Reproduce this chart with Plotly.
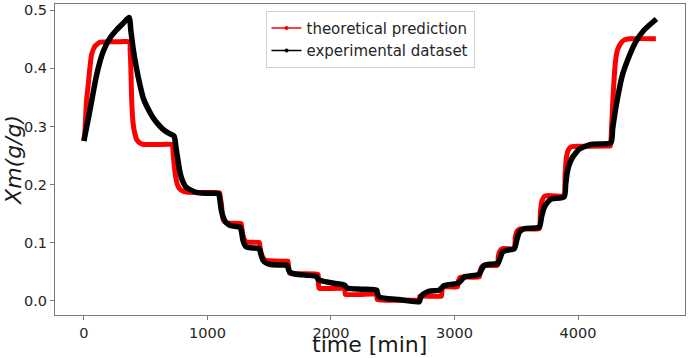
import plotly.graph_objects as go

# theoretical prediction (red)
t_theo = [0, 8, 21, 35, 48, 62, 89, 129, 200, 300, 372, 374, 378, 382, 386, 392, 399, 412, 426, 450, 480, 600, 718,
          720, 726, 735, 749, 762, 776, 800, 830, 950, 1098, 1104, 1113, 1120, 1126, 1140, 1167, 1273,
          1278, 1288, 1300, 1315, 1421, 1426, 1437, 1450, 1463, 1500, 1650, 1652, 1657, 1665, 1680, 1895,
          1898, 1903, 1910, 2112, 2116, 2370, 2374, 2716, 2720, 2894, 2899, 2908, 3024, 3032, 3045, 3065,
          3200, 3208, 3222, 3245, 3347, 3355, 3368, 3390, 3484, 3492, 3505, 3530, 3686, 3695, 3708, 3730,
          3760, 3888, 3895, 3905, 3920, 3945, 3990, 4252, 4262, 4272, 4282, 4293, 4305, 4320, 4345, 4375,
          4420, 4630]
x_theo = [0.275, 0.29, 0.344, 0.372, 0.40, 0.4236, 0.438, 0.445, 0.446, 0.446, 0.446, 0.432, 0.415, 0.385, 0.35,
          0.322, 0.304, 0.288, 0.278, 0.272, 0.269, 0.269, 0.269,
          0.262, 0.245, 0.225, 0.2067, 0.197, 0.1925, 0.189, 0.187, 0.186, 0.186, 0.178, 0.1668, 0.150, 0.141,
          0.136, 0.1336, 0.133,
          0.125, 0.1125, 0.105, 0.101, 0.100, 0.092, 0.081, 0.074, 0.0709, 0.069, 0.068, 0.068, 0.058, 0.048,
          0.0465, 0.0457,
          0.030, 0.022, 0.021, 0.021, 0.011, 0.011, 0.0025, 0.0025, 0.008, 0.008, 0.020, 0.024, 0.024, 0.034,
          0.040, 0.041,
          0.041, 0.052, 0.059, 0.061, 0.061, 0.077, 0.086, 0.0897, 0.0897, 0.108, 0.119, 0.124, 0.124, 0.152,
          0.172, 0.180,
          0.181, 0.181, 0.215, 0.245, 0.259, 0.265, 0.266, 0.2666, 0.2666, 0.30, 0.345, 0.385, 0.415, 0.432,
          0.443, 0.449,
          0.451, 0.451]

# experimental dataset (black)
t_exp = [0, 48, 103, 156, 210, 264, 318, 366, 380, 400, 425, 450, 480, 520, 560, 600, 641, 690, 728, 735, 748,
         762, 775, 789, 810, 830, 870, 911, 1000, 1090, 1100, 1113, 1126, 1140, 1160, 1180, 1220, 1265, 1275,
         1288, 1300, 1315, 1360, 1420, 1430, 1450, 1475, 1504, 1570, 1645, 1655, 1665, 1690, 1719, 1800, 1881,
         1895, 1908, 2000, 2110, 2123, 2135, 2250, 2370, 2377, 2390, 2450, 2550, 2716, 2725, 2740, 2757, 2797,
         2878, 2895, 2915, 2932, 3026, 3050, 3066, 3080, 3175, 3201, 3220, 3242, 3300, 3350, 3370, 3390, 3430,
         3484, 3505, 3525, 3565, 3686, 3705, 3727, 3755, 3781, 3888, 3900, 3915, 3935, 3955, 3980, 4010, 4060,
         4117, 4266, 4280, 4293, 4320, 4360, 4414, 4468, 4535, 4635]
x_exp = [0.275, 0.327, 0.389, 0.429, 0.452, 0.466, 0.4777, 0.4875, 0.465, 0.432, 0.401, 0.375, 0.349, 0.330,
         0.315, 0.304, 0.295, 0.288, 0.284, 0.280, 0.26,
         0.241, 0.224, 0.212, 0.201, 0.195, 0.19, 0.1866, 0.185, 0.184, 0.175, 0.155, 0.145, 0.138, 0.133, 0.130,
         0.128, 0.1267, 0.12,
         0.104, 0.097, 0.0925, 0.091, 0.0897, 0.082, 0.0697, 0.065, 0.0628, 0.0615, 0.061, 0.055, 0.0497, 0.047,
         0.0457, 0.044, 0.042,
         0.037, 0.0354, 0.031, 0.027, 0.0235, 0.0215, 0.020, 0.0183, 0.012, 0.0068, 0.004, 0.002, -0.0015, 0.005,
         0.010, 0.0127, 0.0166,
         0.0183, 0.022, 0.026, 0.027, 0.030, 0.034, 0.038, 0.041, 0.044, 0.046, 0.054, 0.061, 0.063, 0.064, 0.074,
         0.084, 0.087,
         0.0897, 0.105, 0.118, 0.124, 0.1267, 0.145, 0.161, 0.170, 0.175, 0.179, 0.200, 0.224, 0.238, 0.2466,
         0.254, 0.261, 0.266,
         0.2695, 0.272, 0.295, 0.315, 0.349, 0.389, 0.421, 0.446, 0.466, 0.485]

x_ticks = [0, 1000, 2000, 3000, 4000]
y_ticks = [0.0, 0.1, 0.2, 0.3, 0.4, 0.5]

FONT = "DejaVu Sans"
RED = "#ff0000"
BLACK = "#000000"

fig = go.Figure()
fig.add_trace(go.Scatter(x=t_theo, y=x_theo, mode="lines",
                         line=dict(color=RED, width=5, shape="spline", smoothing=0.4),
                         showlegend=False, hoverinfo="skip"))
fig.add_trace(go.Scatter(x=t_exp, y=x_exp, mode="lines",
                         line=dict(color=BLACK, width=5.5, shape="spline", smoothing=0.6),
                         showlegend=False, hoverinfo="skip"))
# legend entries (thin line with dot marker, like the original)
fig.add_trace(go.Scatter(x=[None], y=[None], mode="lines+markers", name="theoretical prediction",
                         line=dict(color=RED, width=1.5), marker=dict(color=RED, size=4)))
fig.add_trace(go.Scatter(x=[None], y=[None], mode="lines+markers", name="experimental dataset",
                         line=dict(color=BLACK, width=1.5), marker=dict(color=BLACK, size=4)))

axis_common = dict(showgrid=False, zeroline=False, showline=True, mirror=True, linecolor="#7a7a7a",
                   linewidth=1.2, ticks="outside", ticklen=4, tickwidth=1, tickcolor="#7a7a7a",
                   tickfont=dict(family=FONT, size=14.5, color="#262626"))

fig.update_layout(
    width=688, height=358,
    margin=dict(l=55, r=2, t=2, b=43),
    paper_bgcolor="white", plot_bgcolor="white",
    font=dict(family=FONT),
    xaxis=dict(range=[-234, 4866], tickvals=x_ticks, ticktext=[str(v) for v in x_ticks], **axis_common),
    yaxis=dict(range=[-0.0245, 0.5108], tickvals=y_ticks, ticktext=[f"{v:.1f}" for v in y_ticks],
               **axis_common),
    legend=dict(x=0.5, xanchor="center", y=0.978, yanchor="top", bgcolor="rgba(255,255,255,0.8)",
                bordercolor="#d0d0d0", borderwidth=1, font=dict(family=FONT, size=15, color="#262626"),
                itemwidth=30, tracegroupgap=0),
    annotations=[
        dict(text="time [min]", xref="paper", yref="paper", x=0.499, y=-0.1374, xanchor="center",
             yanchor="bottom", showarrow=False, borderpad=0,
             font=dict(family=FONT, size=22, color="#1a1a1a")),
        dict(text="<i>Xm(g/g)</i>", xref="paper", yref="paper", x=-0.066, y=0.5, xanchor="center",
             yanchor="middle", textangle=-90, showarrow=False,
             font=dict(family=FONT, size=22, color="#1a1a1a")),
    ],
)

fig.write_html("out.html")
